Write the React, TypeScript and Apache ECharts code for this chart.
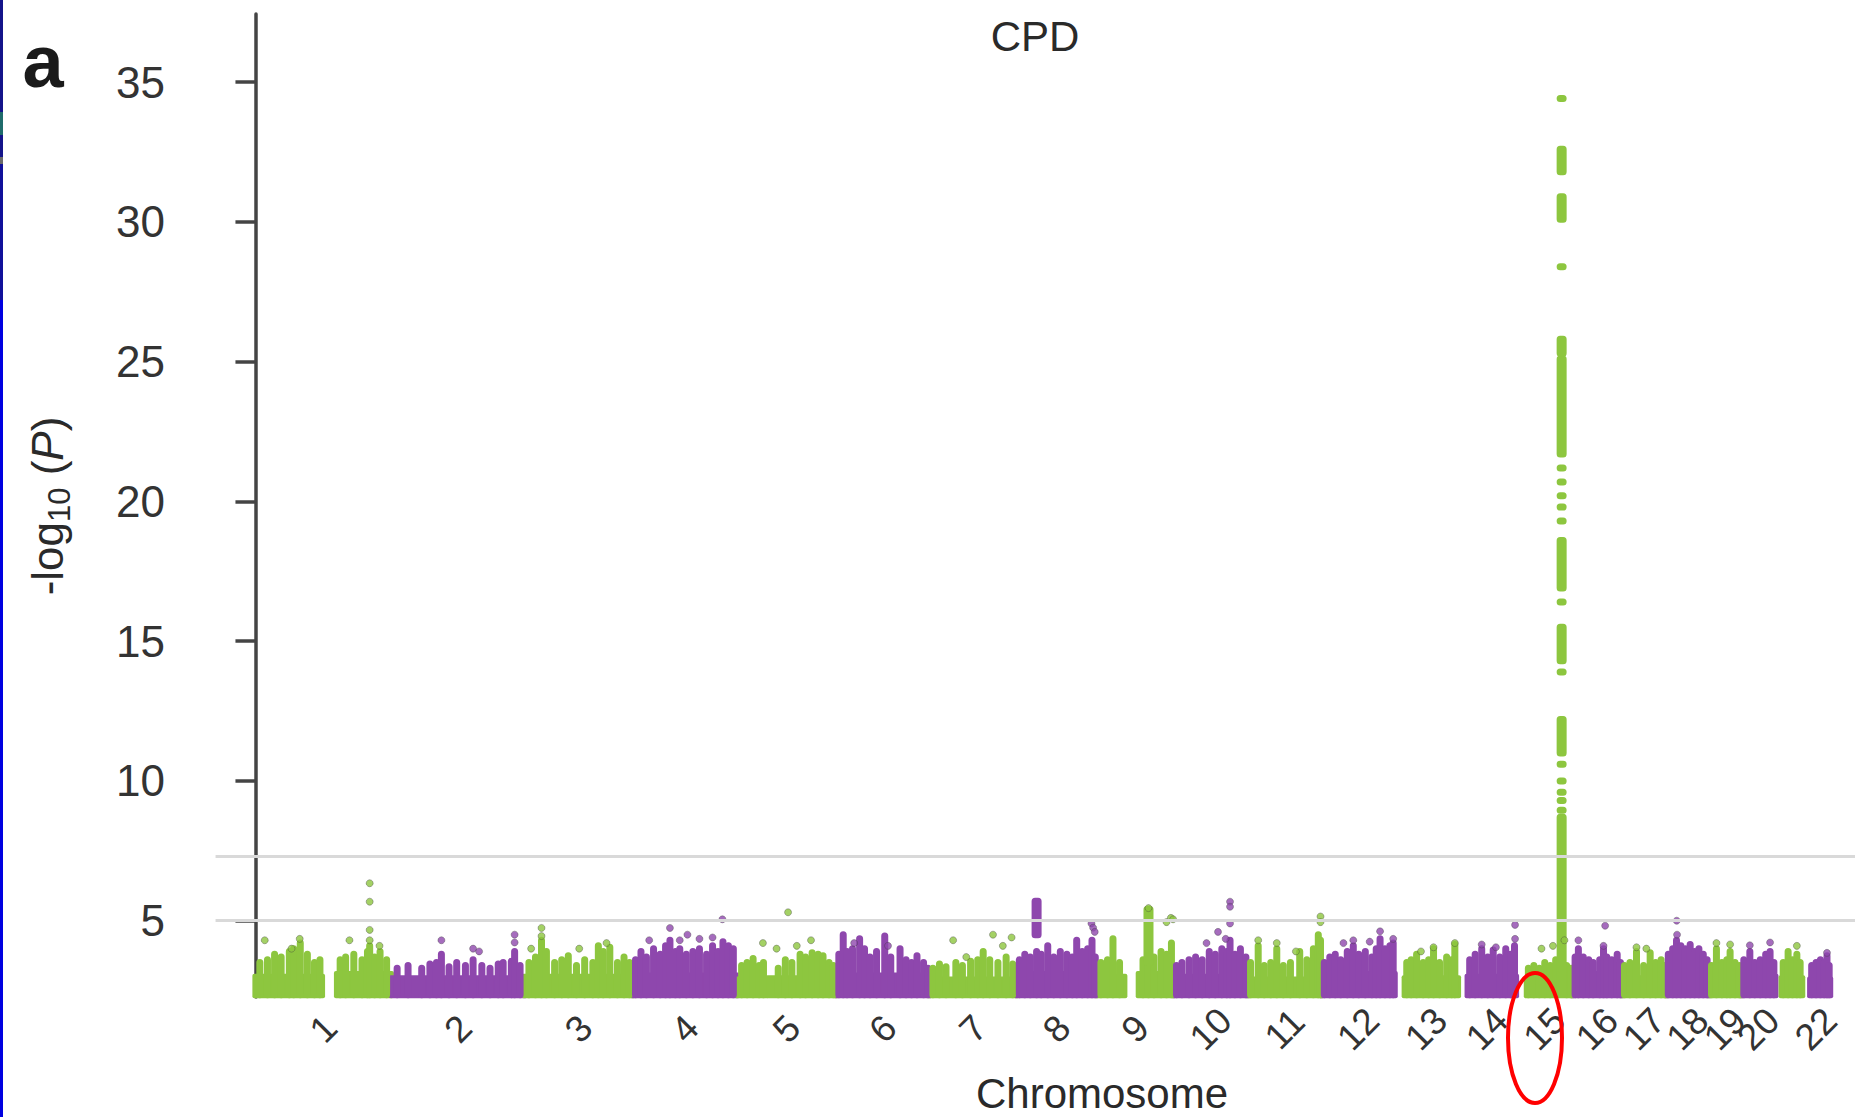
import React, { useEffect, useRef } from 'react';
import * as echarts from 'echarts';

// ---- Genome layout (hg19 autosome lengths, Mb) ----
const CHROMOSOMES = ['1', '2', '3', '4', '5', '6', '7', '8', '9', '10', '11', '12', '13', '14', '15', '16', '17', '18', '19', '20', '21', '22'];
const CHROM_LENGTH_MB = [249.25, 243.2, 198.02, 191.15, 180.92, 171.12, 159.14, 146.36, 141.21, 135.53, 135.01, 133.85, 115.17, 107.35, 102.53, 90.35, 81.2, 78.08, 59.13, 63.03, 48.13, 51.3];

const Y_TICKS = [5, 10, 15, 20, 25, 30, 35];
const THRESHOLDS = [7.3, 5];
const BAND_FLOOR = 2.35;

// Dense SNP band per chromosome arm: [chromosome, start Mb, end Mb, band top]
const BAND_SPANS: [number, number, number, number][] = [
  [1, 0.8, 121, 3.1], [1, 150, 247, 3.2],
  [2, 1, 242, 3.05],
  [3, 1, 197, 3.1],
  [4, 1, 190, 3.15],
  [5, 1, 52, 3.0], [5, 58, 180, 3.05],
  [6, 1, 170, 3.15],
  [7, 1, 158, 3.0],
  [8, 1, 145, 3.2],
  [9, 2, 50, 3.1], [9, 78, 140, 3.2],
  [10, 1, 135, 3.1],
  [11, 1, 134, 3.0],
  [12, 1, 133, 3.2],
  [13, 19, 115, 3.05],
  [14, 19, 106, 3.1],
  [15, 20, 102, 2.95],
  [16, 1, 40, 3.2], [16, 47, 90, 3.2],
  [17, 1, 81, 3.05],
  [18, 1, 78, 3.2],
  [19, 1, 59, 3.0],
  [20, 1, 62, 3.1],
  [21, 12, 48, 3.05],
  [22, 16, 51, 3.0],
];

// Stacks of SNPs rising out of the band: [chromosome, position Mb, top]
const STACKS: [number, number, number][] = [
  [1, 8, 3.5], [1, 22, 3.6], [1, 35, 3.8], [1, 47, 3.7], [1, 62, 3.9], [1, 70, 4.0], [1, 82, 4.2], [1, 95, 3.8], [1, 108, 3.5], [1, 118, 3.6],
  [1, 155, 3.6], [1, 165, 3.7], [1, 180, 3.8], [1, 195, 3.6], [1, 205, 3.9], [1, 209, 4.1], [1, 218, 3.7], [1, 228, 3.9], [1, 240, 3.6],
  [2, 10, 3.3], [2, 30, 3.4], [2, 55, 3.3], [2, 70, 3.45], [2, 82, 3.5], [2, 91, 3.8], [2, 105, 3.35], [2, 119, 3.5], [2, 135, 3.4],
  [2, 149, 3.6], [2, 165, 3.4], [2, 180, 3.3], [2, 195, 3.45], [2, 204, 3.5], [2, 219, 3.55], [2, 225, 3.9], [2, 235, 3.4],
  [3, 8, 3.5], [3, 20, 3.7], [3, 31, 4.3], [3, 40, 3.9], [3, 55, 3.5], [3, 68, 3.6], [3, 80, 3.75], [3, 95, 3.4], [3, 110, 3.6],
  [3, 125, 3.5], [3, 135, 4.1], [3, 144, 3.9], [3, 156, 4.05], [3, 170, 3.5], [3, 182, 3.7], [3, 192, 3.5],
  [4, 5, 3.6], [4, 15, 3.9], [4, 25, 3.7], [4, 38, 4.0], [4, 50, 3.8], [4, 60, 4.1], [4, 68, 4.3], [4, 78, 3.9], [4, 86, 4.0],
  [4, 98, 3.8], [4, 110, 3.9], [4, 122, 4.0], [4, 135, 3.8], [4, 146, 4.1], [4, 156, 3.9], [4, 165, 4.25], [4, 175, 4.1], [4, 184, 4.0],
  [5, 8, 3.4], [5, 18, 3.5], [5, 29, 3.65], [5, 40, 3.4], [5, 48, 3.5], [5, 75, 3.3], [5, 88, 3.6], [5, 100, 3.5], [5, 115, 3.8],
  [5, 125, 3.7], [5, 137, 3.85], [5, 148, 3.8], [5, 157, 3.75], [5, 168, 3.5], [5, 176, 3.4],
  [6, 5, 3.8], [6, 13, 4.5], [6, 20, 3.9], [6, 30, 4.0], [6, 43, 4.35], [6, 52, 4.0], [6, 62, 3.7], [6, 74, 3.9], [6, 89, 4.45],
  [6, 100, 3.7], [6, 117, 4.0], [6, 128, 3.6], [6, 138, 3.5], [6, 148, 3.75], [6, 160, 3.5], [6, 168, 3.3],
  [7, 6, 3.3], [7, 18, 3.45], [7, 30, 3.35], [7, 48, 3.5], [7, 60, 3.4], [7, 75, 3.55], [7, 88, 3.6], [7, 98, 3.9], [7, 110, 3.6],
  [7, 125, 3.5], [7, 140, 3.7], [7, 152, 3.45],
  [8, 5, 3.6], [8, 15, 3.8], [8, 25, 3.7], [8, 36.6, 3.9], [8, 45, 3.8], [8, 57, 4.1], [8, 68, 3.7], [8, 80, 3.9], [8, 92, 3.8],
  [8, 102, 3.7], [8, 110, 4.3], [8, 120, 3.9], [8, 130, 4.0], [8, 138, 4.3], [8, 144, 3.7],
  [9, 8, 3.5], [9, 20, 3.6], [9, 30, 4.35], [9, 42, 3.5], [9, 85, 3.6], [9, 95, 3.7], [9, 105, 3.7], [9, 118, 3.9], [9, 128, 3.8], [9, 137, 4.2],
  [10, 5, 3.4], [10, 15, 3.5], [10, 28, 3.6], [10, 40, 3.7], [10, 52, 3.6], [10, 65, 3.9], [10, 76, 3.8], [10, 88, 4.0], [10, 97, 3.9],
  [10, 103, 4.3], [10, 112, 3.8], [10, 122, 4.0], [10, 132, 3.7],
  [11, 5, 3.5], [11, 19, 4.1], [11, 30, 3.4], [11, 42, 3.5], [11, 53, 4.0], [11, 65, 3.4], [11, 78, 3.5], [11, 95, 3.9], [11, 108, 3.6],
  [11, 120, 4.0], [11, 129, 4.5], [11, 133, 4.3],
  [12, 5, 3.5], [12, 15, 3.7], [12, 25, 3.8], [12, 35, 3.6], [12, 47, 3.9], [12, 58, 4.1], [12, 68, 3.8], [12, 80, 3.9], [12, 92, 3.7],
  [12, 100, 4.0], [12, 107, 4.35], [12, 116, 4.0], [12, 125, 4.1], [12, 131, 4.2],
  [13, 22, 3.5], [13, 30, 3.6], [13, 40, 3.8], [13, 52, 3.5], [13, 62, 3.6], [13, 71, 4.0], [13, 82, 3.5], [13, 95, 3.7], [13, 104, 3.6], [13, 110, 4.15],
  [14, 22, 3.6], [14, 32, 3.8], [14, 44, 4.0], [14, 55, 3.7], [14, 65, 3.95], [14, 77, 3.7], [14, 88, 4.0], [14, 97, 3.8], [14, 104, 4.1],
  [15, 22, 3.3], [15, 32, 3.4], [15, 42, 3.3], [15, 52, 3.5], [15, 62, 3.4], [15, 72, 3.6], [15, 92, 3.4], [15, 100, 3.3],
  [16, 5, 3.7], [16, 11, 4.0], [16, 20, 3.7], [16, 30, 3.6], [16, 38, 3.5], [16, 50, 3.6], [16, 57, 4.0], [16, 63, 3.7], [16, 72, 3.6], [16, 82, 3.8], [16, 88, 3.5],
  [17, 5, 3.4], [17, 15, 3.5], [17, 27, 3.9], [17, 40, 3.4], [17, 52, 3.85], [17, 62, 3.5], [17, 72, 3.6], [17, 79, 3.4],
  [18, 4, 3.8], [18, 12, 4.0], [18, 19, 4.3], [18, 27, 4.1], [18, 35, 4.0], [18, 44, 4.15], [18, 52, 3.9], [18, 60, 4.0], [18, 68, 3.8], [18, 75, 3.6],
  [19, 5, 3.4], [19, 14, 4.0], [19, 24, 3.5], [19, 33, 3.6], [19, 39, 3.9], [19, 48, 3.5], [19, 56, 3.4],
  [20, 5, 3.6], [20, 16, 3.9], [20, 25, 3.5], [20, 35, 3.6], [20, 45, 3.8], [20, 53, 3.9], [20, 60, 3.5],
  [21, 14, 3.5], [21, 23, 3.9], [21, 31, 3.6], [21, 39, 3.8], [21, 45, 3.5],
  [22, 18, 3.4], [22, 26, 3.5], [22, 34, 3.6], [22, 41, 3.5], [22, 46, 3.75], [22, 50, 3.4],
];

// Runs of neighbouring SNPs above the band: [chromosome, position Mb, low, high]
const RUNS: [number, number, number, number][] = [
  [8, 36.6, 4.5, 5.7],
  [9, 95, 3.5, 5.4],
  [15, 82.9, 2.4, 8.7], [15, 82.9, 11.0, 12.2], [15, 82.9, 14.3, 15.5], [15, 82.9, 16.9, 18.6],
  [15, 82.9, 21.7, 25.1], [15, 82.9, 25.3, 25.8], [15, 82.9, 30.1, 30.9], [15, 82.9, 31.8, 32.6],
];

// Single SNPs: [chromosome, position Mb, -log10 P]
const SNPS: [number, number, number][] = [
  [1, 17, 4.3], [1, 66, 4.0], [1, 81, 4.35], [1, 172, 4.3], [1, 209, 6.34], [1, 209, 5.68], [1, 209, 4.67], [1, 209, 4.3], [1, 227, 4.1],
  [2, 91, 4.3], [2, 149, 4.0], [2, 225, 4.5], [2, 225, 4.22], [2, 160, 3.9],
  [3, 31, 4.74], [3, 31, 4.45], [3, 12, 4.0], [3, 100, 4.0], [3, 150, 4.2],
  [4, 68, 4.74], [4, 86, 4.3], [4, 122, 4.35], [4, 146, 4.4], [4, 164, 5.05], [4, 30, 4.3], [4, 100, 4.5],
  [5, 93, 5.3], [5, 47, 4.2], [5, 109, 4.1], [5, 72, 4.0], [5, 135, 4.3],
  [6, 33, 4.2], [6, 95, 4.1],
  [7, 43, 4.3], [7, 116, 4.5], [7, 67, 3.7], [7, 134, 4.1], [7, 150, 4.4],
  [8, 137, 4.9], [8, 140, 4.75], [8, 143, 4.6],
  [9, 128, 4.95], [9, 136, 5.1], [9, 140, 5.05], [9, 95, 5.45],
  [10, 103, 5.68], [10, 103, 5.5], [10, 103, 4.9], [10, 81, 4.6], [10, 95, 4.35], [10, 60, 4.2],
  [11, 19, 4.3], [11, 53, 4.2], [11, 133, 5.15], [11, 133, 4.95], [11, 88, 3.9],
  [12, 58, 4.3], [12, 107, 4.62], [12, 131, 4.35], [12, 40, 4.2], [12, 88, 4.25],
  [13, 71, 4.05], [13, 110, 4.2], [13, 48, 3.9],
  [14, 105, 4.85], [14, 105, 4.35], [14, 44, 4.15], [14, 70, 4.05],
  [15, 46, 4.0], [15, 67, 4.1], [15, 88, 4.3],
  [16, 11, 4.3], [16, 60, 4.82], [16, 57, 4.1],
  [17, 27, 4.05], [17, 45, 4.0],
  [18, 19.4, 5.0], [18, 20, 4.5],
  [19, 14, 4.2], [19, 39, 4.15],
  [20, 16, 4.12], [20, 53, 4.22],
  [21, 39, 4.1],
  [22, 46, 3.85],
];

// Lead locus on chromosome 15 (CHRNA5-A3-B4 region)
const LEAD_CHROM = 15;
const LEAD_POS_MB = 82.9;
const LEAD_SNP_VALUES = [34.42, 28.4, 21.2, 20.7, 20.2, 19.8, 19.3, 16.4, 13.9, 10.6, 10.0, 9.6, 9.3, 8.95];

// ---- Styling ----
const GREEN = '#8dc63f';
const PURPLE = '#8e47ad';
const FONT = "'Liberation Sans', Arial, Helvetica, sans-serif";
const DOT = 7;

const CHROM_START: number[] = [];
CHROM_LENGTH_MB.forEach((len, i) => {
  CHROM_START.push(i === 0 ? 0 : CHROM_START[i - 1] + CHROM_LENGTH_MB[i - 1]);
});
const CHROM_CENTER = CHROM_START.map((s, i) => s + CHROM_LENGTH_MB[i] / 2);
const toGenome = (chr: number, mb: number) => CHROM_START[chr - 1] + mb;
const colorOf = (chr: number) => (chr % 2 === 1 ? GREEN : PURPLE);

const X_MIN = -85;
const X_MAX = 2927;
const LINE_START = -73;

function columnRenderer(width: number) {
  return (_params: any, api: any) => {
    const x = api.value(0);
    const lo = api.value(1);
    const hi = api.value(2);
    const chr = api.value(3);
    const top = api.coord([x, hi]);
    const bot = api.coord([x, lo]);
    const r = DOT / 2;
    return {
      type: 'rect',
      shape: { x: top[0] - width / 2, y: top[1] - r, width, height: bot[1] - top[1] + DOT, r: Math.min(r, width / 2) },
      style: { fill: colorOf(chr) },
    };
  };
}

export default function App() {
  const ref = useRef<HTMLDivElement>(null);

  useEffect(() => {
    if (!ref.current) return;
    const chart = echarts.init(ref.current, undefined, { renderer: 'svg' });

    const bandData = BAND_SPANS.map(([c, s, e, top]) => [toGenome(c, s), top, toGenome(c, e), c]);
    const stackData = STACKS.map(([c, p, top]) => [toGenome(c, p), BAND_FLOOR, top, c]);
    const runData = RUNS.map(([c, p, lo, hi]) => [toGenome(c, p), lo, hi, c]);
    const leadData = LEAD_SNP_VALUES.map((v) => [toGenome(LEAD_CHROM, LEAD_POS_MB), v, v, LEAD_CHROM]);
    const snpData = SNPS.map(([c, p, v]) => ({
      value: [toGenome(c, p), v],
      itemStyle: { color: colorOf(c) },
    }));

    const labelFor = (v: number) => {
      let best = 0;
      CHROM_CENTER.forEach((c, i) => {
        if (Math.abs(c - v) < Math.abs(CHROM_CENTER[best] - v)) best = i;
      });
      return CHROMOSOMES[best];
    };

    chart.setOption({
      animation: false,
      backgroundColor: '#ffffff',
      grid: { left: 209, right: 10, top: 14, bottom: 120, containLabel: false },
      xAxis: {
        type: 'value',
        min: X_MIN,
        max: X_MAX,
        axisLine: { show: false },
        axisTick: { show: false },
        splitLine: { show: false },
        axisLabel: {
          customValues: CHROM_CENTER,
          formatter: (v: number) => labelFor(v),
          showMinLabel: true,
          showMaxLabel: true,
          hideOverlap: false,
          rotate: 45,
          align: 'center',
          verticalAlign: 'middle',
          margin: 32,
          fontSize: 37,
          fontFamily: FONT,
          color: '#333333',
        },
      },
      yAxis: {
        type: 'value',
        min: 2.27,
        max: 37.44,
        axisLine: { show: true, lineStyle: { color: '#444444', width: 3.5 } },
        axisTick: { show: true, length: 20, lineStyle: { color: '#444444', width: 3.5 }, customValues: Y_TICKS },
        axisLabel: { customValues: Y_TICKS, showMinLabel: true, showMaxLabel: true, margin: 44, fontSize: 44, fontFamily: FONT, color: '#333333' },
        splitLine: { show: false },
      },
      series: [
        {
          type: 'custom',
          name: 'band',
          z: 1,
          data: bandData,
          renderItem: (_p: any, api: any) => {
            const a = api.coord([api.value(0), api.value(1)]);
            const b = api.coord([api.value(2), BAND_FLOOR]);
            const r = DOT / 2;
            return {
              type: 'rect',
              shape: { x: a[0] - r, y: a[1], width: b[0] - a[0] + DOT, height: b[1] - a[1] + r, r: 2 },
              style: { fill: colorOf(api.value(3)) },
            };
          },
          markLine: {
            silent: true,
            symbol: 'none',
            label: { show: false },
            lineStyle: { color: '#d9d9d9', width: 3, type: 'solid' },
            data: THRESHOLDS.map((t) => [{ coord: [LINE_START, t] }, { coord: [X_MAX, t] }]),
          },
        },
        { type: 'custom', name: 'stacks', z: 2, data: stackData, renderItem: columnRenderer(DOT) },
        { type: 'custom', name: 'runs', z: 3, data: runData, renderItem: columnRenderer(10) },
        { type: 'custom', name: 'lead', z: 3, data: leadData, renderItem: columnRenderer(10) },
        {
          type: 'scatter',
          name: 'snps',
          z: 4,
          symbol: 'circle',
          symbolSize: DOT,
          data: snpData,
          itemStyle: { borderColor: 'rgba(60,60,60,0.45)', borderWidth: 1 },
        },
      ],
      graphic: [
        { type: 'rect', left: 0, top: 0, shape: { width: 3, height: 112 }, style: { fill: '#14148a' } },
        { type: 'rect', left: 0, top: 112, shape: { width: 3, height: 23 }, style: { fill: '#1f6b6b' } },
        { type: 'rect', left: 0, top: 135, shape: { width: 3, height: 22 }, style: { fill: '#14148a' } },
        { type: 'rect', left: 0, top: 157, shape: { width: 3, height: 7 }, style: { fill: '#6a6a6a' } },
        { type: 'rect', left: 0, top: 164, shape: { width: 3, height: 136 }, style: { fill: '#10109a' } },
        { type: 'rect', left: 0, top: 300, shape: { width: 3, height: 817 }, style: { fill: '#0000e0' } },
        {
          type: 'text', x: 43, y: 61,
          style: { text: 'a', fontSize: 74, fontWeight: 'bold', fontFamily: FONT, fill: '#1a1a1a', align: 'center', verticalAlign: 'middle' },
        },
        {
          type: 'text', x: 1035, y: 36,
          style: { text: 'CPD', fontSize: 42, fontFamily: FONT, fill: '#2a2a2a', align: 'center', verticalAlign: 'middle' },
        },
        {
          type: 'text', x: 1102, y: 1093,
          style: { text: 'Chromosome', fontSize: 42, fontFamily: FONT, fill: '#2a2a2a', align: 'center', verticalAlign: 'middle' },
        },
        {
          type: 'text', x: 47, y: 506, rotation: Math.PI / 2,
          style: {
            text: '{a|-log}{b|10}{a| (}{c|P}{a|)}',
            align: 'center',
            verticalAlign: 'middle',
            fill: '#2a2a2a',
            fontFamily: FONT,
            rich: {
              a: { fontSize: 44, lineHeight: 56, fontFamily: FONT, fill: '#2a2a2a', verticalAlign: 'middle' },
              b: { fontSize: 31, lineHeight: 31, height: 31, fontFamily: FONT, fill: '#2a2a2a', verticalAlign: 'bottom' },
              c: { fontSize: 44, lineHeight: 56, fontStyle: 'italic', fontFamily: FONT, fill: '#2a2a2a', verticalAlign: 'middle' },
            },
          },
        },
        {
          type: 'ellipse',
          shape: { cx: 1535, cy: 1038, rx: 27, ry: 65 },
          style: { fill: 'none', stroke: '#ff0000', lineWidth: 4 },
          z: 10,
        },
      ],
    });

    return () => chart.dispose();
  }, []);

  return (
    <div
      ref={ref}
      style={{ position: 'absolute', left: 0, top: 0, width: 1865, height: 1117, background: '#ffffff' }}
    />
  );
}
